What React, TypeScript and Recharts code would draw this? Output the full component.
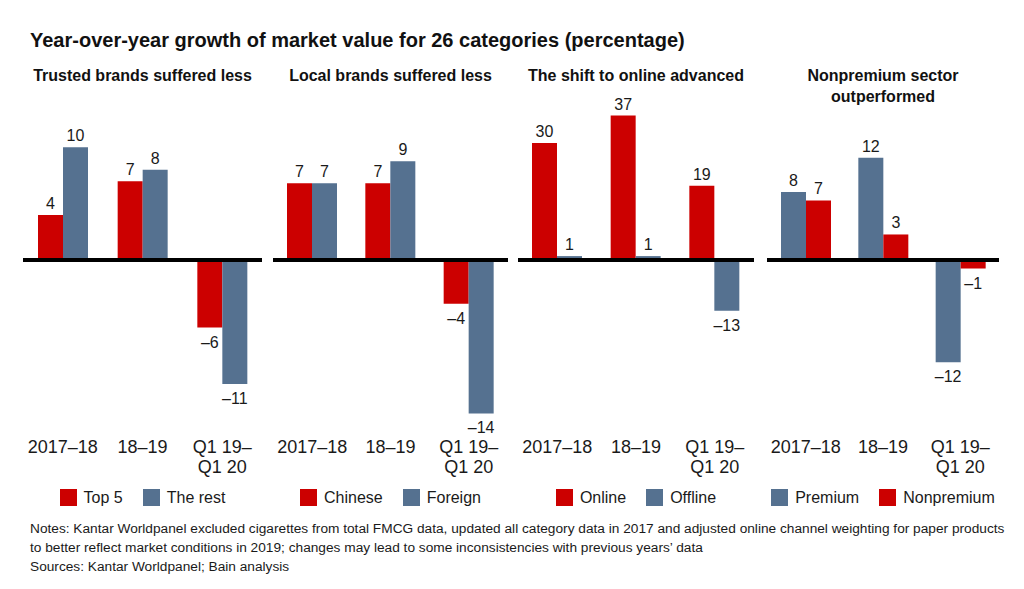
import { BarChart, Bar, XAxis, YAxis, ReferenceLine, LabelList } from 'recharts';

// periods on the x axis, "\n" splits the tick into two lines
const periods = ['2017–18', '18–19', 'Q1 19–\nQ1 20'];

const top5 = [4, 7, -6];
const theRest = [10, 8, -11];
const chinese = [7, 7, -4];
const foreign = [7, 9, -14];
const online = [30, 37, 19];
const offline = [1, 1, -13];
const premium = [8, 12, -12];
const nonpremium = [7, 3, -1];

const notes = [
  'Notes: Kantar Worldpanel excluded cigarettes from total FMCG data, updated all category data in 2017 and adjusted online channel weighting for paper products',
  'to better reflect market conditions in 2019; changes may lead to some inconsistencies with previous years’ data',
  'Sources: Kantar Worldpanel; Bain analysis',
];

const RED = '#cc0000';
const SLATE = '#557190';
const FONT = '"Liberation Sans", Arial, Helvetica, sans-serif';

type Series = { name: string; values: number[]; color: string };
type PanelDef = { title: string[]; left: number; width: number; domain: [number, number]; series: Series[] };

const panels: PanelDef[] = [
  {
    title: ['Trusted brands suffered less'],
    left: 23,
    width: 239,
    domain: [-14.2, 14.2],
    series: [
      { name: 'Top 5', values: top5, color: RED },
      { name: 'The rest', values: theRest, color: SLATE },
    ],
  },
  {
    title: ['Local brands suffered less'],
    left: 273,
    width: 235,
    domain: [-14.6, 14.6],
    series: [
      { name: 'Chinese', values: chinese, color: RED },
      { name: 'Foreign', values: foreign, color: SLATE },
    ],
  },
  {
    title: ['The shift to online advanced'],
    left: 518,
    width: 236,
    domain: [-41, 41],
    series: [
      { name: 'Online', values: online, color: RED },
      { name: 'Offline', values: offline, color: SLATE },
    ],
  },
  {
    title: ['Nonpremium sector', 'outperformed'],
    left: 767,
    width: 232,
    domain: [-18.8, 18.8],
    series: [
      { name: 'Premium', values: premium, color: SLATE },
      { name: 'Nonpremium', values: nonpremium, color: RED },
    ],
  },
];

const fmt = (v: number) => (v < 0 ? `–${Math.abs(v)}` : `${v}`);

function PeriodTick(props: any) {
  const { x, y, payload } = props;
  const lines = String(payload.value).split('\n');
  return (
    <g>
      {lines.map((line, i) => (
        <text key={i} x={x} y={y + 25 + i * 20} textAnchor="middle" fontSize={18} fill="#1a1a1a" fontFamily={FONT}>
          {line}
        </text>
      ))}
    </g>
  );
}

function ValueLabel(props: any) {
  const { x, y, width, height, value } = props;
  const v = Number(value);
  const top = Math.min(y, y + height);
  const bottom = Math.max(y, y + height);
  const ty = v >= 0 ? top - 6 : bottom + 20;
  return (
    <text x={x + width / 2} y={ty} textAnchor="middle" fontSize={16} fill="#1a1a1a" fontFamily={FONT}>
      {fmt(v)}
    </text>
  );
}

function Panel({ panel }: { panel: PanelDef }) {
  const data = periods.map((period, i) => ({
    period,
    first: panel.series[0].values[i],
    second: panel.series[1].values[i],
  }));
  return (
    <div style={{ position: 'absolute', left: panel.left, top: 0, width: panel.width, height: 589 }}>
      <div
        style={{
          position: 'absolute',
          top: 65,
          left: -20,
          right: -20,
          textAlign: 'center',
          fontWeight: 'bold',
          fontSize: 16,
          lineHeight: '21px',
          color: '#111',
        }}
      >
        {panel.title.map((t) => (
          <div key={t}>{t}</div>
        ))}
      </div>
      <div style={{ position: 'absolute', top: 95, left: 0 }}>
        <BarChart
          width={panel.width}
          height={385}
          data={data}
          margin={{ top: 5, right: 0, bottom: 0, left: 0 }}
          barGap={0}
          barSize={25}
        >
          <XAxis dataKey="period" axisLine={false} tickLine={false} interval={0} height={60} tick={PeriodTick} />
          <YAxis hide type="number" domain={panel.domain} allowDataOverflow />
          <Bar dataKey="first" name={panel.series[0].name} fill={panel.series[0].color} isAnimationActive={false}>
            <LabelList dataKey="first" content={ValueLabel} />
          </Bar>
          <Bar dataKey="second" name={panel.series[1].name} fill={panel.series[1].color} isAnimationActive={false}>
            <LabelList dataKey="second" content={ValueLabel} />
          </Bar>
          <ReferenceLine y={0} stroke="#000" strokeWidth={4} />
        </BarChart>
      </div>
      <div
        style={{
          position: 'absolute',
          top: 489,
          left: -10,
          right: -10,
          display: 'flex',
          justifyContent: 'center',
          gap: 20,
          fontSize: 16,
          color: '#1a1a1a',
        }}
      >
        {panel.series.map((s) => (
          <div key={s.name} style={{ display: 'flex', alignItems: 'center', height: 17 }}>
            <span style={{ display: 'inline-block', width: 17, height: 17, background: s.color, marginRight: 7 }} />
            <span style={{ whiteSpace: 'nowrap' }}>{s.name}</span>
          </div>
        ))}
      </div>
    </div>
  );
}

export default function App() {
  return (
    <div
      style={{
        position: 'absolute',
        left: 0,
        top: 0,
        width: 1024,
        height: 589,
        background: '#fff',
        fontFamily: FONT,
        overflow: 'hidden',
      }}
    >
      <div
        style={{
          position: 'absolute',
          left: 30,
          top: 30,
          fontSize: 20,
          lineHeight: '20px',
          fontWeight: 'bold',
          color: '#111',
          whiteSpace: 'nowrap',
        }}
      >
        Year-over-year growth of market value for 26 categories (percentage)
      </div>
      {panels.map((p) => (
        <Panel key={p.title[0]} panel={p} />
      ))}
      <div
        style={{
          position: 'absolute',
          left: 30,
          top: 519,
          fontSize: 13.7,
          lineHeight: '19px',
          color: '#1a1a1a',
          whiteSpace: 'nowrap',
        }}
      >
        {notes.map((n) => (
          <div key={n}>{n}</div>
        ))}
      </div>
    </div>
  );
}
